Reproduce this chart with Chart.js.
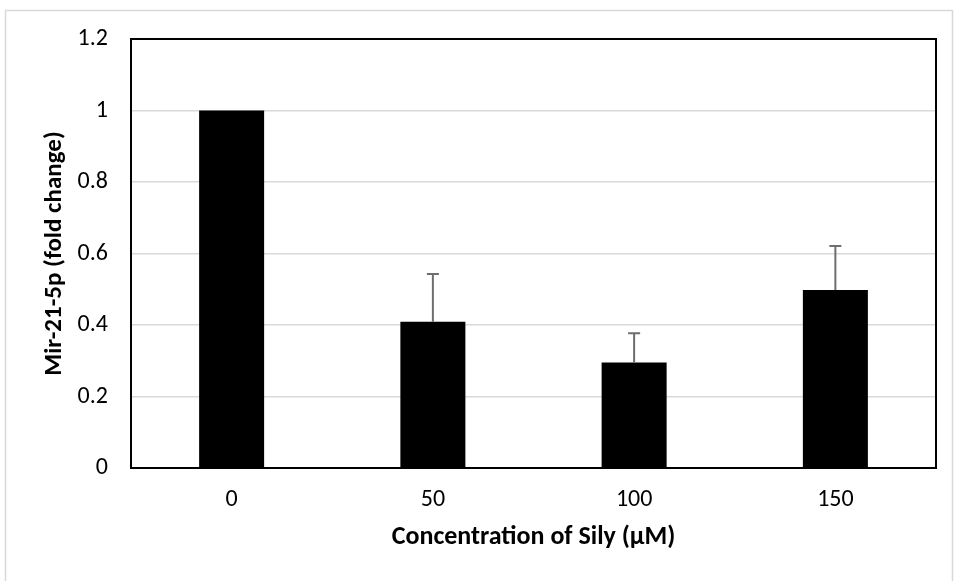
<!DOCTYPE html>
<html>
<head>
<meta charset="utf-8">
<script src="https://cdn.jsdelivr.net/npm/chart.js@4/dist/chart.umd.min.js"></script>
<style>
  html, body { margin: 0; padding: 0; background: #fff; }
  #wrap { width: 954px; height: 581px; position: relative; }
</style>
</head>
<body>
<div id="wrap"><canvas id="chart" width="954" height="581"></canvas></div>
<script>
// Data
const concentrations = ['0', '50', '100', '150'];
const foldChange = [1.0, 0.409, 0.295, 0.498];
const errorUpper = [0, 0.134, 0.082, 0.123];
const yTicks = [0, 0.2, 0.4, 0.6, 0.8, 1, 1.2];

const fontFamily = 'Carlito, Lato, "Open Sans", sans-serif';

// Outer frame, error bars and plot box
const framePlugin = {
    id: 'frame',
    beforeDraw(chart) {
        const ctx = chart.ctx;
        ctx.save();
        ctx.fillStyle = '#fff';
        ctx.fillRect(0, 0, chart.width, chart.height);
        ctx.strokeStyle = '#d9d9d9';
        ctx.lineWidth = 1.5;
        ctx.strokeRect(5.5, 10.5, 947, 620);
        ctx.restore();
    },
    afterDatasetsDraw(chart) {
        const ctx = chart.ctx;
        const area = chart.chartArea;
        const y = chart.scales.y;
        const meta = chart.getDatasetMeta(0);
        ctx.save();
        // error bars (upper only)
        ctx.strokeStyle = '#6e6e6e';
        ctx.lineWidth = 2;
        meta.data.forEach((bar, i) => {
            if (!errorUpper[i]) return;
            const yTop = y.getPixelForValue(foldChange[i] + errorUpper[i]);
            const yBase = y.getPixelForValue(foldChange[i]);
            ctx.beginPath();
            ctx.moveTo(bar.x, yBase);
            ctx.lineTo(bar.x, yTop);
            ctx.moveTo(bar.x - 6, yTop);
            ctx.lineTo(bar.x + 6, yTop);
            ctx.stroke();
        });
        // plot area box
        ctx.strokeStyle = '#000';
        ctx.lineWidth = 2;
        ctx.strokeRect(area.left, area.top, area.right - area.left, area.bottom - area.top);
        ctx.restore();
    }
};

new Chart(document.getElementById('chart'), {
    type: 'bar',
    data: {
        labels: concentrations,
        datasets: [{
            data: foldChange,
            backgroundColor: '#000',
            borderColor: '#000',
            borderWidth: 0,
            barPercentage: 0.323,
            categoryPercentage: 1.0
        }]
    },
    options: {
        responsive: false,
        animation: false,
        devicePixelRatio: 1,
        layout: { padding: { top: 39, right: 18, bottom: 0, left: 0 } },
        plugins: {
            legend: { display: false },
            tooltip: { enabled: false }
        },
        scales: {
            x: {
                grid: { display: false, drawTicks: false },
                border: { display: false },
                ticks: { color: '#000', padding: 18, font: { family: fontFamily, size: 24 } },
                title: {
                    display: true,
                    text: 'Concentration of Sily (µM)',
                    color: '#000',
                    padding: { top: 0, bottom: 28 },
                    font: { family: fontFamily, size: 26, weight: 'bold' }
                },
                afterFit: s => { s.height = 113; }
            },
            y: {
                min: 0,
                max: 1.2,
                afterBuildTicks: s => { s.ticks = yTicks.map(v => ({ value: v })); },
                grid: { color: '#d9d9d9', lineWidth: 1.5, drawTicks: false },
                border: { display: false },
                ticks: {
                    color: '#000',
                    padding: 23,
                    font: { family: fontFamily, size: 24 },
                    callback: v => String(+v.toFixed(1))
                },
                title: {
                    display: true,
                    text: 'Mir-21-5p (fold change)',
                    color: '#000',
                    padding: { top: 40, bottom: 0 },
                    font: { family: fontFamily, size: 25, weight: 'bold' }
                },
                afterFit: s => { s.width = 131; }
            }
        }
    },
    plugins: [framePlugin]
});
</script>
</body>
</html>
